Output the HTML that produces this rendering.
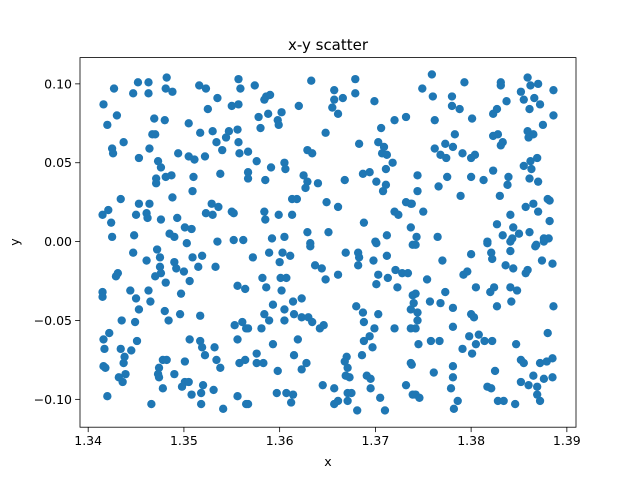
<!DOCTYPE html>
<html><head><meta charset="utf-8"><style>
html,body{margin:0;padding:0;background:#fff;}
svg{display:block;font-family:"DejaVu Sans","Liberation Sans",sans-serif;}
</style></head><body>
<svg id="chart" width="640" height="480" viewBox="0 0 640 480">
<rect width="640" height="480" fill="#fff"/>
<g id="pts"></g>
<g id="axes"></g>
<text x="328" y="50" text-anchor="middle" font-size="15" fill="#000">x-y scatter</text>
<text x="328" y="466" text-anchor="middle" font-size="12.5" fill="#000">x</text>
<text x="19" y="242" text-anchor="middle" font-size="12.5" fill="#000" transform="rotate(-90 19 242)">y</text>
</svg>
<script>
const xs = [1.3427,1.3452,1.3463,1.3447,1.3463,1.3482,1.3481,1.3488,1.3516,1.3523,1.3535,1.3557,1.3559,1.3416,1.3430,1.3420,1.3469,1.3480,1.3505,1.3525,1.3550,1.3557,1.3467,1.3470,1.3437,1.3425,1.3426,1.3464,1.3453,1.3473,1.3476,1.3494,1.3505,1.3511,1.3522,1.3517,1.3530,1.3534,1.3540,1.3544,1.3547,1.3556,1.3557,1.3558,1.3567,1.3471,1.3471,1.3481,1.3487,1.3510,1.3509,1.3538,1.3567,1.3567,1.3434,1.3488,1.3453,1.3464,1.3415,1.3421,1.3424,1.3450,1.3461,1.3462,1.3476,1.3493,1.3501,1.3508,1.3485,1.3490,1.3425,1.3448,1.3523,1.3529,1.3536,1.3530,1.3550,1.3552,1.3503,1.3535,1.3552,1.3562,
1.3574,1.3586,1.3590,1.3584,1.3633,1.3620,1.3602,1.3588,1.3578,1.3598,1.3599,1.3580,1.3657,1.3679,1.3679,1.3657,1.3666,1.3655,1.3661,1.3699,1.3720,1.3732,1.3706,1.3648,1.3683,1.3703,1.3709,1.3707,1.3712,1.3718,1.3711,1.3629,1.3634,1.3576,1.3591,1.3605,1.3606,1.3585,1.3625,1.3629,1.3627,1.3640,1.3668,1.3687,1.3694,1.3701,1.3711,1.3708,1.3613,1.3618,1.3649,1.3661,1.3584,1.3585,1.3599,1.3613,1.3720,1.3724,1.3732,1.3737,1.3688,1.3737,1.3629,1.3651,1.3605,1.3592,1.3712,1.3700,1.3632,
1.3759,1.3749,1.3760,1.3793,1.3780,1.3780,1.3788,1.3762,1.3801,1.3831,1.3831,1.3837,1.3823,1.3827,1.3859,1.3862,1.3870,1.3852,1.3855,1.3866,1.3872,1.3861,1.3886,1.3886,1.3875,1.3783,1.3823,1.3828,1.3833,1.3831,1.3859,1.3860,1.3865,1.3762,1.3773,1.3781,1.3768,1.3774,1.3791,1.3800,1.3804,1.3855,1.3862,1.3869,1.3863,1.3861,1.3870,1.3744,1.3775,1.3766,1.3800,1.3813,1.3823,1.3839,1.3838,1.3744,1.3789,1.3830,1.3738,1.3750,1.3857,1.3865,1.3870,1.3880,1.3882,1.3841,1.3827,1.3844,1.3882,1.3743,1.3765,1.3833,1.3843,1.3850,1.3861,1.3817,1.3876,1.3881,1.3868,
1.3447,1.3461,1.3472,1.3475,1.3475,1.3476,1.3470,1.3490,1.3492,1.3500,1.3509,1.3519,1.3515,1.3533,1.3481,1.3506,1.3429,1.3431,1.3415,1.3415,1.3444,1.3463,1.3450,1.3465,1.3453,1.3497,1.3556,1.3564,1.3480,1.3484,1.3496,1.3517,1.3435,1.3449,1.3553,1.3561,1.3565,1.3556,1.3416,1.3422,1.3417,1.3434,1.3445,1.3451,1.3438,1.3437,1.3506,1.3517,1.3519,1.3522,1.3532,1.3534,1.3538,1.3416,1.3418,1.3439,1.3432,1.3436,1.3478,1.3482,1.3474,1.3473,1.3474,1.3501,1.3490,1.3501,1.3505,1.3498,1.3508,1.3520,1.3518,1.3531,1.3518,1.3541,1.3478,1.3420,1.3466,1.3558,1.3564,1.3556,1.3565,
1.3572,1.3589,1.3603,1.3611,1.3600,1.3632,1.3637,1.3644,1.3648,1.3661,1.3582,1.3601,1.3607,1.3586,1.3602,1.3669,1.3682,1.3683,1.3682,1.3698,1.3701,1.3712,1.3703,1.3701,1.3713,1.3721,1.3728,1.3734,1.3723,1.3739,1.3739,1.3593,1.3614,1.3623,1.3605,1.3605,1.3615,1.3584,1.3589,1.3581,1.3567,1.3623,1.3630,1.3634,1.3642,1.3646,1.3680,1.3687,1.3688,1.3703,1.3699,1.3720,1.3737,1.3737,1.3694,1.3688,1.3697,1.3619,1.3593,1.3615,1.3576,1.3576,1.3583,1.3628,1.3623,1.3598,1.3670,1.3668,1.3671,1.3669,1.3673,1.3686,1.3691,1.3695,1.3695,1.3645,1.3657,1.3671,1.3675,1.3671,1.3661,1.3657,1.3705,1.3681,1.3710,1.3597,1.3607,1.3614,1.3612,1.3567,1.3732,1.3737,1.3739,
1.3742,1.3817,1.3841,1.3867,1.3876,1.3800,1.3770,1.3821,1.3822,1.3841,1.3836,1.3844,1.3857,1.3859,1.3874,1.3885,1.3754,1.3792,1.3796,1.3805,1.3773,1.3742,1.3740,1.3744,1.3744,1.3742,1.3757,1.3768,1.3781,1.3781,1.3800,1.3803,1.3820,1.3824,1.3841,1.3848,1.3842,1.3827,1.3886,1.3745,1.3758,1.3767,1.3798,1.3808,1.3805,1.3814,1.3822,1.3791,1.3801,1.3847,1.3880,1.3852,1.3855,1.3872,1.3879,1.3885,1.3738,1.3761,1.3781,1.3781,1.3779,1.3825,1.3817,1.3821,1.3852,1.3860,1.3865,1.3869,1.3876,1.3885,1.3869,1.3872,1.3742,1.3746,1.3786,1.3782,1.3828,1.3834,1.3846];
const ys = [0.097,0.101,0.101,0.094,0.094,0.104,0.097,0.095,0.099,0.097,0.091,0.103,0.097,0.087,0.080,0.074,0.078,0.077,0.075,0.084,0.086,0.087,0.068,0.068,0.063,0.059,0.056,0.059,0.053,0.051,0.047,0.056,0.054,0.052,0.054,0.069,0.070,0.063,0.058,0.066,0.070,0.071,0.063,0.056,0.057,0.040,0.037,0.041,0.042,0.041,0.032,0.043,0.044,0.040,0.027,0.028,0.024,0.024,0.017,0.020,0.012,0.017,0.018,0.015,0.014,0.015,0.009,0.008,0.005,0.003,0.003,0.004,0.018,0.024,0.022,0.017,0.019,0.018,-0.001,0.000,0.001,0.001,
0.099,0.092,0.093,0.090,0.102,0.086,0.082,0.081,0.079,0.077,0.074,0.072,0.096,0.103,0.094,0.090,0.091,0.085,0.081,0.089,0.077,0.079,0.072,0.069,0.062,0.063,0.060,0.056,0.055,0.050,0.046,0.058,0.056,0.051,0.047,0.050,0.046,0.039,0.042,0.038,0.034,0.037,0.039,0.043,0.044,0.038,0.036,0.032,0.027,0.027,0.025,0.022,0.019,0.014,0.017,0.017,0.019,0.017,0.025,0.024,0.012,0.009,0.006,0.006,0.003,0.002,0.004,0.000,-0.001,
0.106,0.097,0.092,0.101,0.092,0.086,0.084,0.077,0.078,0.101,0.099,0.089,0.081,0.084,0.104,0.099,0.100,0.095,0.090,0.091,0.087,0.084,0.096,0.080,0.074,0.068,0.067,0.068,0.063,0.061,0.070,0.066,0.068,0.059,0.062,0.060,0.055,0.053,0.056,0.053,0.055,0.048,0.051,0.053,0.046,0.040,0.038,0.042,0.041,0.035,0.041,0.039,0.045,0.041,0.036,0.032,0.029,0.029,0.024,0.019,0.022,0.024,0.019,0.027,0.026,0.017,0.011,0.009,0.013,0.003,0.003,0.004,0.002,0.005,0.006,0.000,0.002,0.002,-0.002,
-0.007,-0.012,-0.005,-0.010,-0.016,-0.020,-0.022,-0.013,-0.017,-0.019,-0.010,-0.009,-0.016,-0.016,-0.026,-0.025,-0.022,-0.020,-0.032,-0.035,-0.031,-0.031,-0.036,-0.038,-0.043,-0.033,-0.028,-0.030,-0.044,-0.050,-0.046,-0.047,-0.050,-0.051,-0.053,-0.051,-0.055,-0.062,-0.062,-0.058,-0.068,-0.068,-0.069,-0.063,-0.073,-0.077,-0.062,-0.063,-0.067,-0.072,-0.067,-0.075,-0.080,-0.079,-0.080,-0.084,-0.086,-0.089,-0.075,-0.075,-0.080,-0.084,-0.086,-0.076,-0.084,-0.089,-0.089,-0.092,-0.097,-0.091,-0.096,-0.094,-0.103,-0.106,-0.093,-0.098,-0.103,-0.077,-0.075,-0.098,-0.103,
-0.010,-0.007,-0.007,-0.009,-0.013,-0.003,-0.015,-0.017,-0.024,-0.021,-0.023,-0.023,-0.023,-0.029,-0.031,-0.007,-0.007,-0.010,-0.015,-0.012,-0.001,-0.009,-0.021,-0.027,-0.023,-0.018,-0.020,-0.020,-0.029,-0.002,-0.034,-0.040,-0.038,-0.036,-0.043,-0.050,-0.046,-0.046,-0.050,-0.055,-0.055,-0.048,-0.048,-0.051,-0.055,-0.053,-0.041,-0.045,-0.051,-0.046,-0.055,-0.055,-0.043,-0.055,-0.060,-0.063,-0.067,-0.062,-0.065,-0.072,-0.071,-0.077,-0.077,-0.077,-0.081,-0.082,-0.073,-0.076,-0.080,-0.085,-0.086,-0.072,-0.085,-0.087,-0.093,-0.091,-0.093,-0.096,-0.096,-0.101,-0.101,-0.103,-0.099,-0.107,-0.107,-0.096,-0.096,-0.097,-0.102,-0.103,-0.091,-0.077,-0.097,
-0.002,-0.001,0.000,-0.003,0.000,-0.008,-0.012,-0.007,-0.011,-0.006,-0.015,-0.017,-0.020,-0.018,-0.012,-0.014,-0.024,-0.021,-0.019,-0.029,-0.032,-0.033,-0.039,-0.045,-0.050,-0.055,-0.038,-0.039,-0.042,-0.054,-0.046,-0.048,-0.032,-0.029,-0.029,-0.031,-0.038,-0.041,-0.041,-0.065,-0.063,-0.063,-0.060,-0.059,-0.065,-0.063,-0.063,-0.068,-0.071,-0.065,-0.058,-0.075,-0.077,-0.077,-0.076,-0.074,-0.078,-0.083,-0.079,-0.086,-0.093,-0.082,-0.092,-0.093,-0.089,-0.091,-0.085,-0.092,-0.087,-0.086,-0.097,-0.101,-0.097,-0.099,-0.101,-0.106,-0.101,-0.101,-0.103];
const xTicks = [1.34,1.35,1.36,1.37,1.38,1.39];
const xTickLabels = ["1.34","1.35","1.36","1.37","1.38","1.39"];
const yTicks = [-0.10,-0.05,0.00,0.05,0.10];
const yTickLabels = ["\u22120.10","\u22120.05","0.00","0.05","0.10"];

const L=80,R=576,T=57.6,B=427.2;
const NS="http://www.w3.org/2000/svg";
function ext(a){let mn=Math.min(...a),mx=Math.max(...a);const m=(mx-mn)*0.05;return [mn-m,mx+m];}
const [x0,x1]=ext(xs),[y0,y1]=ext(ys);
function sx(v){return L+(v-x0)/(x1-x0)*(R-L);}
function sy(v){return B-(v-y0)/(y1-y0)*(B-T);}
function mk(tag,attrs){const e=document.createElementNS(NS,tag);for(const k in attrs)e.setAttribute(k,attrs[k]);return e;}

const pts=document.getElementById('pts');
const n=Math.min(xs.length,ys.length);
for(let i=0;i<n;i++){
  const c=mk('circle',{cx:sx(xs[i]),cy:sy(ys[i]),r:4.17,fill:'#1f77b4'});
  
  
  pts.appendChild(c);
}
const ax=document.getElementById('axes');
const frame=mk('rect',{x:L,y:T,width:R-L,height:B-T,fill:'none',stroke:'#000','stroke-width':0.8});


ax.appendChild(frame);
xTicks.forEach((v,i)=>{
  const x=sx(v);
  const t=mk('line',{x1:x,x2:x,y1:B,y2:B+4.9,stroke:'#000','stroke-width':0.8});
  
  
  ax.appendChild(t);
  const lb=mk('text',{x:x,y:B+18,'text-anchor':'middle','font-size':12.5,fill:'#000'});
  lb.textContent=xTickLabels[i];
  
  
  ax.appendChild(lb);
});
yTicks.forEach((v,i)=>{
  const y=sy(v);
  const t=mk('line',{x1:L-4.9,x2:L,y1:y,y2:y,stroke:'#000','stroke-width':0.8});
  
  
  ax.appendChild(t);
  const lb=mk('text',{x:L-8,y:y+4.5,'text-anchor':'end','font-size':12.5,fill:'#000'});
  lb.textContent=yTickLabels[i];
  
  
  ax.appendChild(lb);
});
</script>
</body></html>
